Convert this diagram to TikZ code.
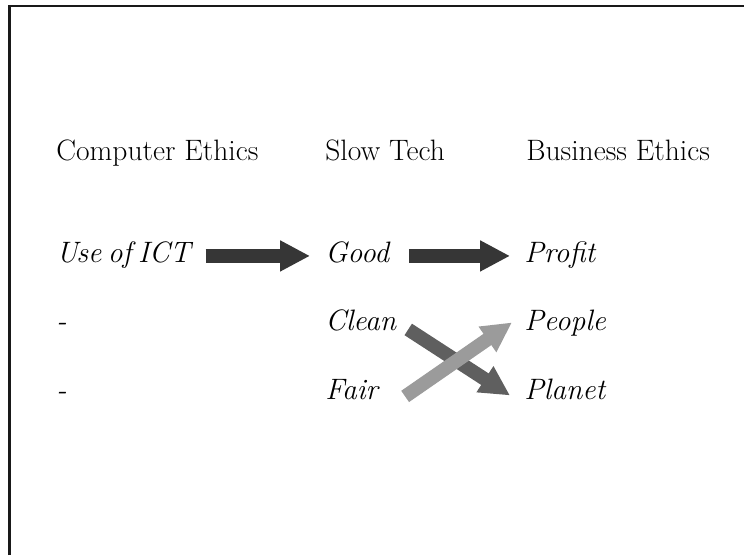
\documentclass[tikz,border=0pt]{standalone}
\usetikzlibrary{arrows.meta,calc}
\definecolor{arrowdark}{HTML}{363636}
\definecolor{arrowmid}{HTML}{5F5F5F}
\definecolor{arrowlight}{HTML}{9B9B9B}
\tikzset{
  lbl/.style={anchor=base west,inner sep=0pt,text height=1.6ex,text depth=0pt},
  fatarrow/.style={line width=7.8pt,-{Triangle[length=17pt,width=16.5pt]}}
}

\begin{document}
\begin{tikzpicture}[scale=2,font=\fontsize{16.8}{20}\selectfont]
  \useasboundingbox (0,0) rectangle (7.44,5.55);
  \draw[line width=1.5pt,black!90] (0.095,0) -- (0.095,5.49) -- (7.44,5.49);
  % column heads
  \node[lbl] (ce) at (0.56,3.95) {Computer Ethics};
  \node[lbl] (st) at (3.25,3.95) {Slow Tech};
  \node[lbl] (be) at (5.26,3.95) {Business Ethics};
  % rows
  \node[lbl] (ict) at (0.56,2.93) {\textit{\spaceskip=.22em Use of ICT}};
  \node[lbl] (good) at (3.25,2.93) {\textit{Good}};
  \node[lbl] (profit) at (5.24,2.93) {\textit{Profit}};
  \node[lbl] (dasha) at (0.56,2.25) {\textit{-}};
  \node[lbl] (clean) at (3.25,2.25) {\textit{Clean}};
  \node[lbl] (people) at (5.24,2.25) {\textit{People}};
  \node[lbl] (dashb) at (0.56,1.56) {\textit{-}};
  \node[lbl] (fair) at (3.25,1.56) {\textit{Fair}};
  \node[lbl] (planet) at (5.24,1.56) {\textit{Planet}};
  % arrows
  \draw[fatarrow,arrowdark] ($(ict.east)+(0.12,0)$) -- ($(good.west)+(-0.15,0)$);
  \draw[fatarrow,arrowdark] ($(good.east)+(0.18,0)$) -- ($(profit.west)+(-0.14,0)$);
  \draw[fatarrow,arrowmid] ($(clean.east)+(0.11,-0.055)$) -- ($(planet.west)+(-0.14,-0.025)$);
  \draw[fatarrow,arrowlight] ($(fair.east)+(0.25,-0.035)$) -- ($(people.west)+(-0.12,0.015)$);
\end{tikzpicture}
\end{document}
